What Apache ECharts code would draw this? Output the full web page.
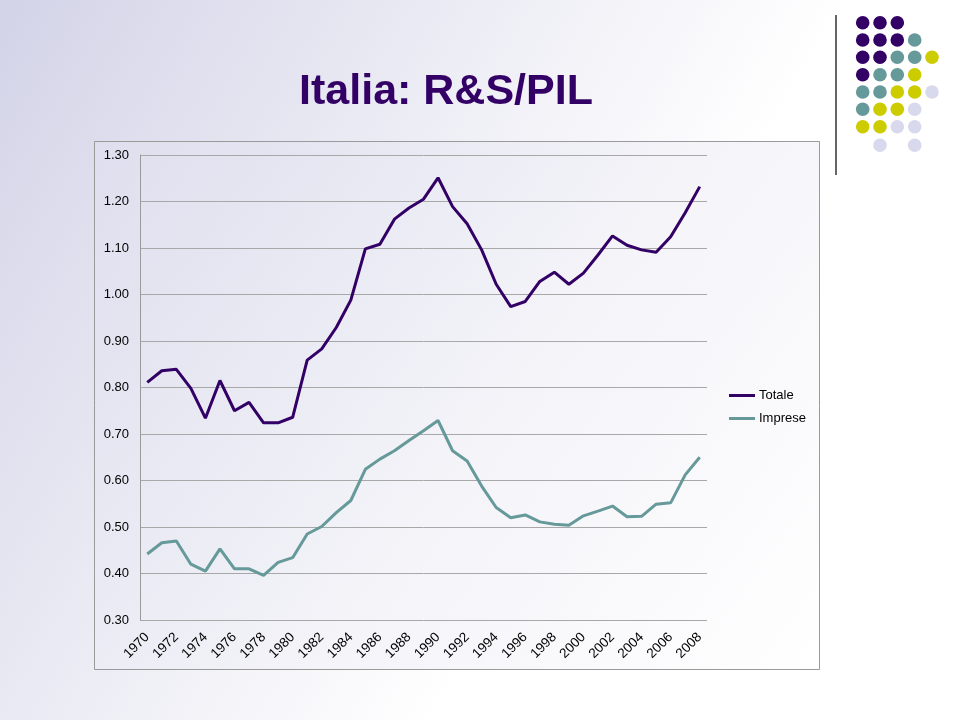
<!DOCTYPE html>
<html>
<head>
<meta charset="utf-8">
<script src="https://cdn.jsdelivr.net/npm/echarts@6/dist/echarts.min.js"></script>
<style>
html,body{margin:0;padding:0;width:960px;height:720px;overflow:hidden;}
body{background:linear-gradient(120deg,#d3d3e8 0%,#e9e9f3 30%,#ffffff 62%);}
#chart{width:960px;height:720px;}
</style>
</head>
<body>
<div id="chart"></div>
<script>
var years = ['1970','1971','1972','1973','1974','1975','1976','1977','1978','1979','1980','1981','1982','1983','1984','1985','1986','1987','1988','1989','1990','1991','1992','1993','1994','1995','1996','1997','1998','1999','2000','2001','2002','2003','2004','2005','2006','2007','2008'];
var totale = [0.811,0.836,0.839,0.798,0.734,0.815,0.750,0.768,0.724,0.724,0.736,0.859,0.883,0.929,0.988,1.098,1.108,1.162,1.186,1.205,1.251,1.189,1.152,1.096,1.022,0.974,0.985,1.028,1.048,1.022,1.046,1.085,1.126,1.106,1.096,1.091,1.124,1.176,1.232];
var imprese = [0.442,0.466,0.470,0.420,0.405,0.453,0.410,0.410,0.396,0.424,0.434,0.485,0.501,0.531,0.557,0.624,0.646,0.664,0.686,0.707,0.729,0.664,0.642,0.588,0.542,0.520,0.526,0.511,0.506,0.504,0.524,0.534,0.545,0.522,0.523,0.549,0.552,0.612,0.650];
var seriesNames = ['Totale','Imprese'];
var titleText = 'Italia: R&S/PIL';

var P='#330066', T='#669999', Y='#cccc00', L='#d9d9ee';
var dotRows = [
  [P,P,P],
  [P,P,P,T],
  [P,P,T,T,Y],
  [P,T,T,Y],
  [T,T,Y,Y,L],
  [T,Y,Y,L],
  [Y,Y,L,L],
  [null,L,null,L]
];
var colX=[862.7,880,897.3,914.7,932];
var rowY=[22.7,40,57.3,74.7,92,109.3,126.7,145.3];
var graphics = [
  {type:'rect',z:-10,shape:{x:94.5,y:141.5,width:725,height:528},
   style:{fill:new echarts.graphic.LinearGradient(0,0,1,1,[{offset:0,color:'#dedeee'},{offset:0.55,color:'#f4f4f9'},{offset:1,color:'#ffffff'}]),stroke:'#9a9a9a',lineWidth:1}},
  {type:'line',shape:{x1:836,y1:15,x2:836,y2:175},style:{stroke:'#666666',lineWidth:2}},
  {type:'text',style:{text:titleText,x:446,y:92,fill:'#330066',font:'bold 43px "Liberation Sans", Arial, sans-serif',textAlign:'center',textVerticalAlign:'middle'}}
];
dotRows.forEach(function(row,r){
  row.forEach(function(c,ci){
    if(c){graphics.push({type:'circle',shape:{cx:colX[ci],cy:rowY[r],r:6.8},style:{fill:c}});}
  });
});

var chart = echarts.init(document.getElementById('chart'));
chart.setOption({
  backgroundColor:'transparent',
  animation:false,
  textStyle:{fontFamily:'"Liberation Sans", Arial, sans-serif'},
  graphic:graphics,
  grid:{left:140,right:253,top:155,bottom:100,containLabel:false},
  legend:{
    orient:'vertical',left:729,top:389,padding:0,itemWidth:26,itemHeight:3,itemGap:10,
    textStyle:{fontSize:13,color:'#000',fontFamily:'"Liberation Sans", Arial, sans-serif',padding:[0,0,0,-1]},
    data:[{name:seriesNames[0],icon:'rect'},{name:seriesNames[1],icon:'rect'}]
  },
  xAxis:{
    type:'category',data:years,boundaryGap:true,
    axisLine:{show:false},axisTick:{show:false},
    axisLabel:{interval:1,rotate:45,fontSize:13.5,color:'#000',margin:15}
  },
  yAxis:{
    type:'value',min:0.3,max:1.3,interval:0.1,
    axisLine:{show:true,lineStyle:{color:'#9a9a9a',width:1}},
    axisTick:{show:false},
    axisLabel:{fontSize:13,color:'#000',margin:11,formatter:function(v){return v.toFixed(2);}},
    splitLine:{lineStyle:{color:'#a8a8a8',width:1}}
  },
  series:[
    {name:seriesNames[0],type:'line',data:totale,symbol:'none',itemStyle:{color:'#330066'},lineStyle:{color:'#330066',width:3}},
    {name:seriesNames[1],type:'line',data:imprese,symbol:'none',itemStyle:{color:'#669999'},lineStyle:{color:'#669999',width:3}}
  ]
});
</script>
</body>
</html>
